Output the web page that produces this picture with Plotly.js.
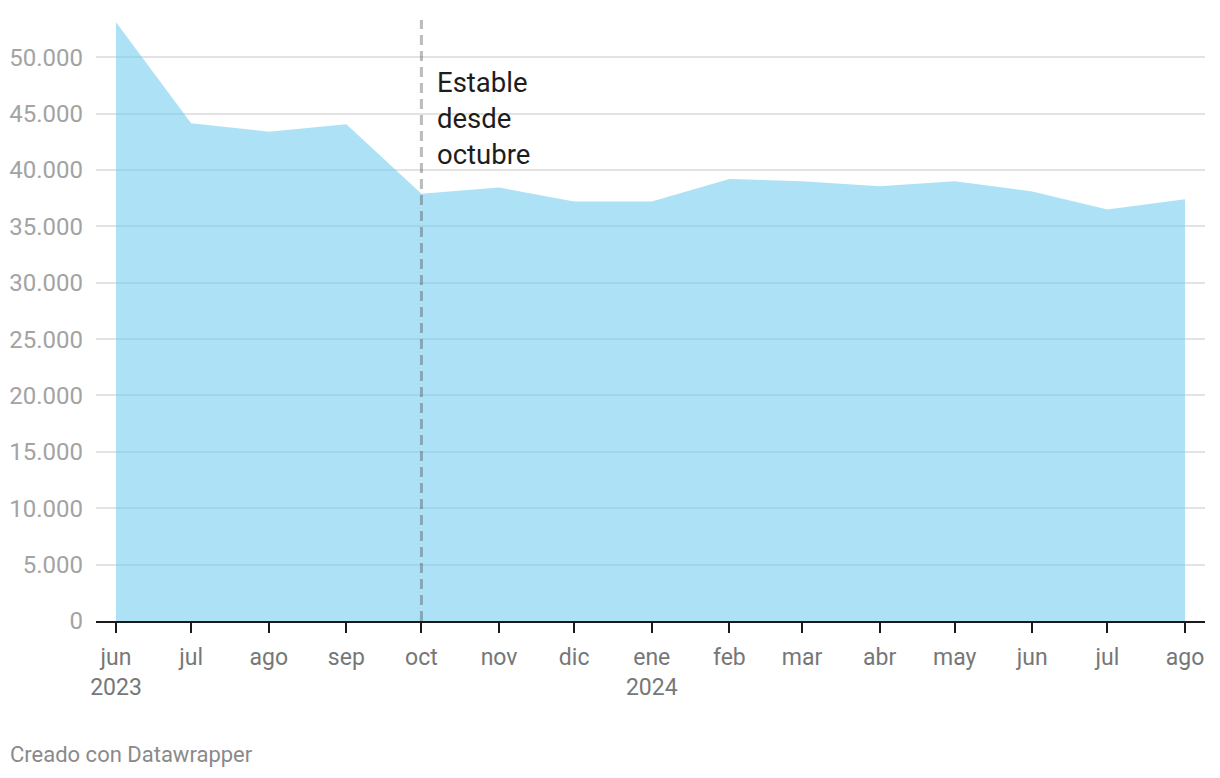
<!DOCTYPE html>
<html>
<head>
<meta charset="utf-8">
<script src="https://cdn.plot.ly/plotly-3.0.1.min.js"></script>
<style>
  html, body { margin: 0; padding: 0; background: #fff; }
  #chart { width: 1220px; height: 778px; }
</style>
</head>
<body>
<div id="chart"></div>
<script>
// Months (first day of each month)
const months = [
  "2023-06-01", "2023-07-01", "2023-08-01", "2023-09-01", "2023-10-01",
  "2023-11-01", "2023-12-01", "2024-01-01", "2024-02-01", "2024-03-01",
  "2024-04-01", "2024-05-01", "2024-06-01", "2024-07-01", "2024-08-01"
];
// Values
const values = [
  53100, 44150, 43400, 44050, 37900,
  38450, 37200, 37200, 39200, 39000,
  38550, 39000, 38100, 36500, 37400
];
// Tick labels
const tickLabels = [
  "jun<br>2023", "jul", "ago", "sep", "oct",
  "nov", "dic", "ene<br>2024", "feb", "mar",
  "abr", "may", "jun", "jul", "ago"
];
const yTicks = [0, 5000, 10000, 15000, 20000, 25000, 30000, 35000, 40000, 45000, 50000];
const markerMonth = "2023-10-01";
const annotationText = "Estable<br>desde<br>octubre";
const footerText = "Creado con Datawrapper";

const trace = {
  x: months,
  y: values,
  type: "scatter",
  mode: "lines",
  fill: "tozeroy",
  fillcolor: "rgba(112,203,239,0.58)",
  line: { width: 0, color: "rgba(112,203,239,0.58)" },
  hoverinfo: "skip"
};

const layout = {
  width: 1220,
  height: 778,
  margin: { l: 96, r: 15, t: 20, b: 157 },
  paper_bgcolor: "#ffffff",
  plot_bgcolor: "#ffffff",
  separators: ",.",
  showlegend: false,
  font: { family: "Roboto, sans-serif", size: 23, color: "#777" },
  xaxis: {
    type: "date",
    range: ["2023-05-24", "2024-08-09"],
    tickvals: months,
    ticktext: tickLabels,
    showgrid: false,
    zeroline: false,
    showline: true,
    linecolor: "#1a1a1a",
    linewidth: 2,
    ticks: "outside",
    ticklen: 10,
    tickwidth: 2,
    tickcolor: "#1a1a1a",
    ticklabelstandoff: 4,
    tickfont: { family: "Roboto, sans-serif", size: 23, color: "#777777" },
    fixedrange: true
  },
  yaxis: {
    range: [0, 53300],
    tickvals: yTicks,
    tickformat: ",d",
    showgrid: true,
    gridcolor: "#e3e3e3",
    gridwidth: 2,
    zeroline: false,
    showline: false,
    ticks: "",
    ticklabelstandoff: 12,
    tickfont: { family: "Roboto, sans-serif", size: 24, color: "#a3a3a3" },
    fixedrange: true
  },
  shapes: [
    {
      type: "line",
      xref: "x",
      yref: "paper",
      x0: markerMonth,
      x1: markerMonth,
      y0: 0,
      y1: 1,
      layer: "above",
      line: { color: "rgba(70,70,70,0.37)", width: 3, dash: "10px,6px" }
    }
  ],
  annotations: [
    {
      x: markerMonth,
      y: 49400,
      xref: "x",
      yref: "y",
      xanchor: "left",
      yanchor: "top",
      xshift: 14,
      align: "left",
      showarrow: false,
      text: annotationText,
      font: { family: "Roboto, sans-serif", size: 27.5, color: "#1d1d1d" }
    },
    {
      x: 0,
      y: 0,
      xref: "paper",
      yref: "paper",
      xanchor: "left",
      yanchor: "middle",
      xshift: -88,
      yshift: -133,
      showarrow: false,
      text: footerText,
      font: { family: "Roboto, sans-serif", size: 22, color: "#8a8a8a" }
    }
  ]
};

Plotly.newPlot("chart", [trace], layout, { displayModeBar: false, staticPlot: true });
</script>
</body>
</html>
